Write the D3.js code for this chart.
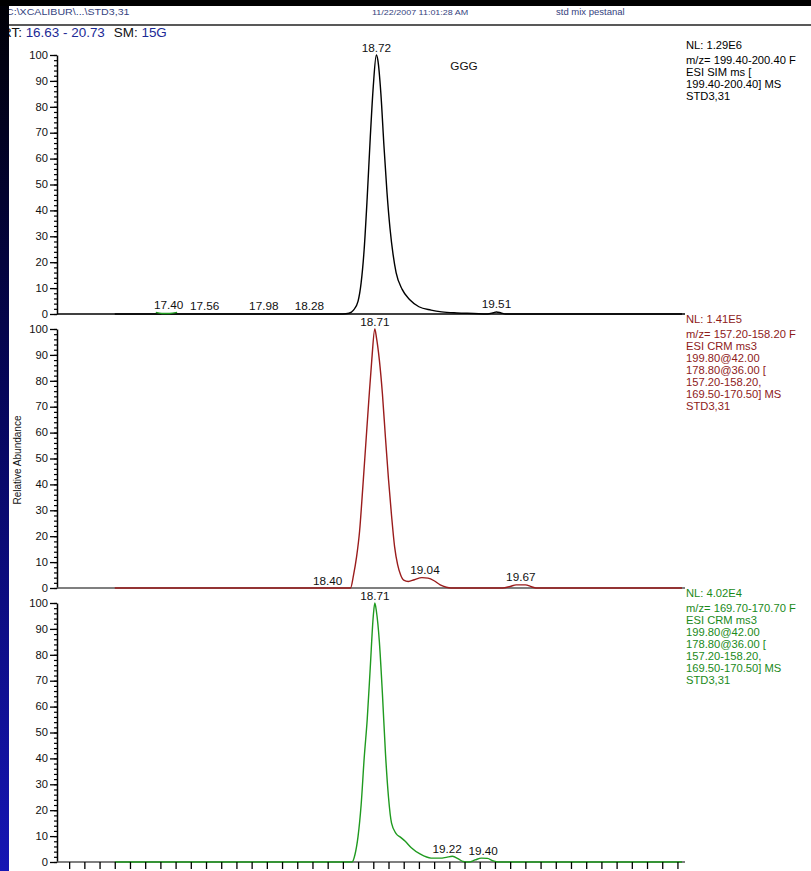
<!DOCTYPE html>
<html>
<head>
<meta charset="utf-8">
<script src="https://cdn.jsdelivr.net/npm/d3@7"></script>
<style>
  html, body { margin: 0; padding: 0; background: #fff; }
  svg { display: block; font-family: "Liberation Sans", Arial, sans-serif; }
</style>
</head>
<body>
<div id="chart"></div>
<script>
// retention time (min) / relative abundance (%)
const blackTime  = [17.00, 18.50, 18.54, 18.57, 18.60, 18.62, 18.64, 18.66, 18.68, 18.70, 18.72, 18.73, 18.75, 18.77, 18.79, 18.81, 18.83, 18.85, 18.89, 18.94, 19.00, 19.08, 19.15, 19.25, 19.36, 19.45, 19.49, 19.51, 19.54, 19.57, 20.73];
const blackAbund = [0, 0, 0.3, 1.5, 5, 12, 25, 45, 68, 88, 100, 98, 85, 65, 47, 33, 23, 16, 9.5, 5.5, 2.8, 1.5, 0.8, 0.4, 0.2, 0, 0.5, 0.8, 0.4, 0, 0];

const blipTime  = [17.27, 17.31, 17.36, 17.41];
const blipAbund = [0.6, 0.2, 0.2, 0.6];

const redTime  = [17.00, 18.40, 18.55, 18.57, 18.59, 18.61, 18.63, 18.65, 18.67, 18.69, 18.71, 18.72, 18.74, 18.76, 18.78, 18.80, 18.82, 18.84, 18.86, 18.88, 18.90, 18.93, 18.97, 19.02, 19.06, 19.10, 19.14, 19.18, 19.21, 19.55, 19.60, 19.64, 19.70, 19.74, 19.77, 20.73];
const redAbund = [0, 0, 0, 5, 12, 22, 38, 55, 72, 88, 100, 97, 88, 75, 58, 42, 28, 16, 9, 5, 3, 2.5, 3.2, 4, 3.8, 2.8, 1.2, 0.3, 0, 0, 0.6, 1.2, 1.2, 0.5, 0, 0];

const greenTime  = [17.00, 18.56, 18.58, 18.60, 18.62, 18.64, 18.66, 18.68, 18.70, 18.71, 18.72, 18.74, 18.76, 18.78, 18.80, 18.82, 18.85, 18.88, 18.91, 18.95, 19.01, 19.08, 19.14, 19.18, 19.22, 19.26, 19.29, 19.33, 19.37, 19.41, 19.45, 19.49, 19.52, 20.73];
const greenAbund = [0, 0, 3, 10, 22, 40, 55, 75, 95, 100, 97, 85, 65, 42, 25, 15, 11, 9.5, 8, 5.5, 3, 1.5, 1.5, 1.8, 2.2, 1.2, 0.2, 0, 0.8, 1.5, 1.4, 0.4, 0, 0];

// apex labels
const blackPeakRT = [17.40, 17.56, 17.98, 18.28, 18.72, 19.51];
const blackPeakAb = [0.6, 0.3, 0.3, 0.3, 100, 0.8];
const redPeakRT   = [18.40, 18.71, 19.04, 19.67];
const redPeakAb   = [0, 100, 4, 1.2];
const greenPeakRT = [18.71, 19.22, 19.40];
const greenPeakAb = [100, 2.2, 1.5];

// scan filter text at the right of each trace
const blackInfo = ["NL: 1.29E6", "m/z= 199.40-200.40 F", "ESI SIM ms [", "199.40-200.40]  MS", "STD3,31"];
const redInfo   = ["NL: 1.41E5", "m/z= 157.20-158.20 F", "ESI CRM ms3", "199.80@42.00", "178.80@36.00 [", "157.20-158.20,", "169.50-170.50]  MS", "STD3,31"];
const greenInfo = ["NL: 4.02E4", "m/z= 169.70-170.70 F", "ESI CRM ms3", "199.80@42.00", "178.80@36.00 [", "157.20-158.20,", "169.50-170.50]  MS", "STD3,31"];

const yTicks = [0, 10, 20, 30, 40, 50, 60, 70, 80, 90, 100];

const width = 811, height = 871;
const SX = 1.12; // the scanned page is a bit stretched horizontally

const svg = d3.select("#chart").append("svg")
    .attr("width", width)
    .attr("height", height);

svg.append("rect").attr("width", width).attr("height", height).attr("fill", "#fff");

const put = (g, x, y, str, size, anchor, fill) => g.append("text")
    .attr("transform", `translate(${x},${y}) scale(${SX},1)`)
    .attr("text-anchor", anchor)
    .attr("font-size", size)
    .attr("fill", fill)
    .text(str);

const x = d3.scaleLinear().domain([16.63, 20.73]).range([58.5, 682]);

// header
put(svg, 6, 15, "C:\\XCALIBUR\\...\\STD3,31", 9.5, "start", "#34427e");
put(svg, 372, 15, "11/22/2007 11:01:28 AM", 8, "start", "#34427e");
put(svg, 556, 15, "std mix pestanal", 8.5, "start", "#34427e");
svg.append("line").attr("x1", 0).attr("x2", width).attr("y1", 25).attr("y2", 25)
    .attr("stroke", "#222").attr("stroke-width", 1.5);

const rt = svg.append("text")
    .attr("transform", `translate(2,37) scale(${SX},1)`)
    .attr("font-size", 12);
rt.append("tspan").attr("fill", "#111").text("RT: ");
rt.append("tspan").attr("fill", "#1c2a96").text("16.63 - 20.73");
rt.append("tspan").attr("fill", "#111").attr("dx", 8).text("SM: ");
rt.append("tspan").attr("fill", "#1c2a96").text("15G");

const panels = [
    { top: 55, time: blackTime, ab: blackAbund, color: "#000", base: "#000", peakRT: blackPeakRT, peakAb: blackPeakAb, info: blackInfo, infoColor: "#000" },
    { top: 329, time: redTime, ab: redAbund, color: "#9a1c1c", base: "#555", peakRT: redPeakRT, peakAb: redPeakAb, info: redInfo, infoColor: "#8e1a1a" },
    { top: 603, time: greenTime, ab: greenAbund, color: "#1f9a1f", base: "#555", peakRT: greenPeakRT, peakAb: greenPeakAb, info: greenInfo, infoColor: "#1a8a1a" }
];
const panelH = 259;

panels.forEach((p, i) => {
    const y = d3.scaleLinear().domain([0, 100]).range([p.top + panelH, p.top]);
    const g = svg.append("g");

    // minor ticks every 2 %
    g.append("g")
        .attr("transform", `translate(${x.range()[0] - 1.5},0)`)
        .call(d3.axisLeft(y).tickValues(d3.range(0, 101, 2)).tickSize(3).tickSizeOuter(0).tickFormat(""))
        .call(a => a.select(".domain").remove())
        .call(a => a.selectAll("line").attr("stroke", "#000").attr("stroke-width", 1.2));

    const yAxis = g.append("g")
        .attr("transform", `translate(${x.range()[0] - 1.5},0)`)
        .call(d3.axisLeft(y).tickValues(yTicks).tickSize(7).tickSizeOuter(0).tickPadding(2));
    yAxis.select(".domain").attr("stroke", "#000").attr("stroke-width", 1.5);
    yAxis.selectAll("line").attr("stroke", "#000").attr("stroke-width", 1.3);
    yAxis.selectAll("text")
        .attr("font-family", "Liberation Sans, Arial, sans-serif")
        .attr("font-size", 10)
        .attr("fill", "#111")
        .attr("x", -9 / SX)
        .attr("transform", `scale(${SX},1)`);

    // baseline
    g.append("line")
        .attr("x1", x.range()[0] - 1.5).attr("x2", x.range()[1] + 3)
        .attr("y1", y(0)).attr("y2", y(0))
        .attr("stroke", p.base).attr("stroke-width", 1.4);

    const line = d3.line()
        .x(d => x(d[0]))
        .y(d => y(d[1]))
        .curve(d3.curveMonotoneX);

    g.append("path")
        .datum(p.time.map((t, k) => [t, p.ab[k]]))
        .attr("d", line)
        .attr("fill", "none")
        .attr("stroke", p.color)
        .attr("stroke-width", 1.4);

    if (i === 0) {
        g.append("path")
            .datum(blipTime.map((t, k) => [t, blipAbund[k]]))
            .attr("d", line)
            .attr("fill", "none")
            .attr("stroke", "#1f9a1f")
            .attr("stroke-width", 1.3);
        put(g, 464, 70, "GGG", 10.5, "middle", "#111");
    }

    // peak labels, nudged apart when they collide
    const fmt = d3.format(".2f");
    const labels = p.peakRT.map((t, k) => ({ t, v: p.peakAb[k], cx: x(t) }));
    const w = 32;
    for (let k = 0; k < labels.length - 1; k++) {
        const a = labels[k], b = labels[k + 1];
        const need = w + 4 - (b.cx - a.cx);
        if (need > 0 && Math.abs(y(a.v) - y(b.v)) < 12) {
            a.cx -= need * 0.6;
            b.cx += need * 0.4;
        }
    }
    labels.forEach(l => put(g, l.cx, y(l.v) - 3.5, fmt(l.t), 10.5, "middle", "#111"));

    // scan filter block
    p.info.forEach((s, k) => {
        const ty = k === 0 ? p.top - 6 : p.top + 9 + (k - 1) * 12;
        put(g, 686, ty, s, 10, "start", p.infoColor);
    });

    if (i === 2) {
        g.append("g")
            .attr("transform", `translate(0,${y(0)})`)
            .call(d3.axisBottom(x).tickValues(x.ticks(40)).tickSize(7).tickFormat(""))
            .call(a => a.select(".domain").remove())
            .call(a => a.selectAll("line").attr("stroke", "#000").attr("stroke-width", 1.3));
    }
});

svg.append("text")
    .attr("transform", `translate(21,460) rotate(-90)`)
    .attr("text-anchor", "middle")
    .attr("font-size", 10)
    .attr("fill", "#111")
    .text("Relative Abundance");

// slide background showing round the pasted chart
const grad = svg.append("defs").append("linearGradient")
    .attr("id", "band").attr("x1", 0).attr("x2", 0).attr("y1", 0).attr("y2", 1);
grad.append("stop").attr("offset", "0%").attr("stop-color", "#000005");
grad.append("stop").attr("offset", "45%").attr("stop-color", "#06065a");
grad.append("stop").attr("offset", "100%").attr("stop-color", "#1616b4");

svg.append("rect").attr("x", 0).attr("y", 0).attr("width", 9).attr("height", height).attr("fill", "url(#band)");
svg.append("rect").attr("x", 0).attr("y", 0).attr("width", width).attr("height", 6).attr("fill", "#000");
</script>
</body>
</html>
